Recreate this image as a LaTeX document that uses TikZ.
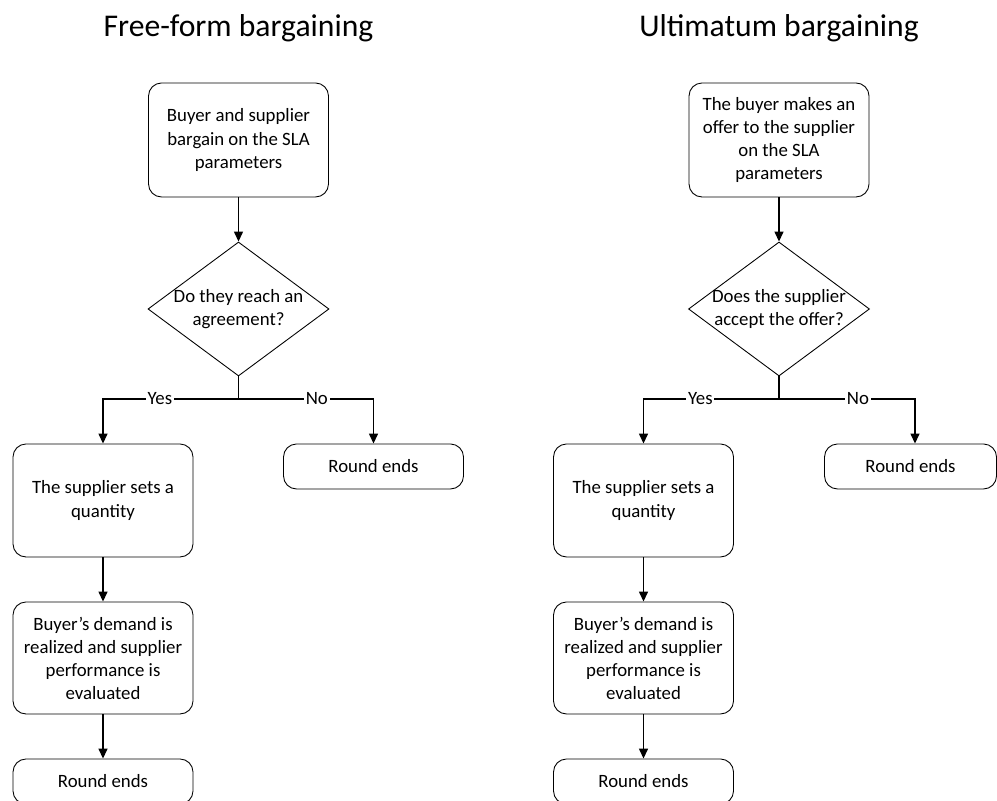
\documentclass[tikz,border=0pt]{standalone}
\usepackage{fontspec}
\setmainfont{Carlito}
\usetikzlibrary{shapes.geometric, positioning, arrows.meta, calc}

\begin{document}
\begin{tikzpicture}[every node/.style={font=\fontsize{10.7}{13.1}\selectfont},
    stepbox/.style={draw, rounded corners=0.26cm, minimum width=3.6cm, align=center, line width=0.5pt},
    endbox/.style={stepbox, minimum height=0.9cm},
    decision/.style={draw, diamond, minimum width=3.62cm, minimum height=2.68cm, inner sep=0pt, line width=0.5pt},
    flow/.style={line width=0.8pt, -{Triangle[length=0.2cm, width=0.18cm]}},
    answer/.style={fill=white, inner sep=1pt}]

    \useasboundingbox (0,0) rectangle (19.94,16.02);

    % Titles
    \node[anchor=base, font=\fontsize{18}{22}\selectfont] (title1) at (4.77, 15.29) {Free-form bargaining};
    \node[anchor=base, font=\fontsize{18}{22}\selectfont] (title2) at (15.58, 15.29) {Ultimatum bargaining};

    % Free-form bargaining
    \node[stepbox, minimum height=2.28cm] (start1) at (4.77, 13.22) {Buyer and supplier\\bargain on the SLA\\parameters};
    \node[decision] (dec1) at (4.77, 9.84) {};
    \node[align=center] (dec1t) at (dec1) {Do they reach an\\agreement?};
    \coordinate (split1) at (4.77, 8.04);
    \node[stepbox, minimum height=2.26cm] (qty1) at (2.06, 6.01) {The supplier sets a\\quantity};
    \node[endbox] (no1) at (7.47, 6.69) {Round ends};
    \node[stepbox, minimum height=2.24cm] (eval1) at (2.06, 2.86) {Buyer’s demand is\\realized and supplier\\performance is\\evaluated};
    \node[endbox] (end1) at (2.06, 0.39) {Round ends};

    \draw[flow] (start1) -- (dec1);
    \draw[line width=0.8pt] (dec1.south) -- (split1);
    \draw[flow] (split1) -| node[answer, pos=0.29] {Yes} (qty1.north);
    \draw[flow] (split1) -| node[answer, pos=0.29] {No} (no1.north);
    \draw[flow] (qty1) -- (eval1);
    \draw[flow] (eval1) -- (end1);

    % Ultimatum bargaining
    \node[stepbox, minimum height=2.28cm] (start2) at (15.58, 13.22) {The buyer makes an\\offer to the supplier\\on the SLA\\parameters};
    \node[decision] (dec2) at (15.58, 9.84) {};
    \node[align=center] (dec2t) at (dec2) {Does the supplier\\accept the offer?};
    \coordinate (split2) at (15.58, 8.04);
    \node[stepbox, minimum height=2.26cm] (qty2) at (12.87, 6.01) {The supplier sets a\\quantity};
    \node[endbox, minimum width=3.44cm] (no2) at (18.21, 6.69) {Round ends};
    \node[stepbox, minimum height=2.24cm] (eval2) at (12.87, 2.86) {Buyer’s demand is\\realized and supplier\\performance is\\evaluated};
    \node[endbox] (end2) at (12.87, 0.39) {Round ends};

    \draw[flow] (start2) -- (dec2);
    \draw[line width=0.8pt] (dec2.south) -- (split2);
    \draw[flow] (split2) -| node[answer, pos=0.29] {Yes} (qty2.north);
    \draw[flow] (split2) -| node[answer, pos=0.29] {No} ($(no2.north)+(0.09,0)$);
    \draw[flow] (qty2) -- (eval2);
    \draw[flow] (eval2) -- (end2);
\end{tikzpicture}
\end{document}
